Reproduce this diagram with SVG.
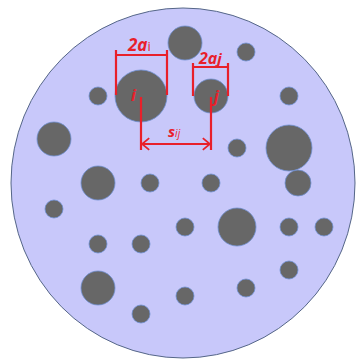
<svg xmlns="http://www.w3.org/2000/svg" width="357" height="361" viewBox="0 0 357 361">
<style>
.p{fill:#676767;stroke:#6f8fd0;stroke-width:0.8}
.r{stroke:#e8202a;stroke-width:2.2;fill:none}
.t{fill:#e8202a;font-family:"Open Sans","DejaVu Sans",sans-serif;font-weight:bold;font-style:italic}
</style>
<defs>
<marker id="ah" viewBox="0 0 10 14" refX="9" refY="7" markerWidth="9" markerHeight="14" markerUnits="userSpaceOnUse" orient="auto-start-reverse">
<path d="M1,0.5 L9,7 L1,13.5" fill="none" stroke="#e8202a" stroke-width="2"/>
</marker>
</defs>
<g id="domain"><ellipse cx="183" cy="183" rx="172" ry="175" fill="#c8c8fa" stroke="#556688" stroke-width="1"/></g>
<g id="particles">
<circle class="p" cx="185" cy="43" r="17"/>
<circle class="p" cx="246" cy="52" r="9"/>
<circle class="p" cx="141" cy="96" r="26"/>
<circle class="p" cx="211" cy="96" r="17"/>
<circle class="p" cx="98" cy="96" r="9"/>
<circle class="p" cx="289" cy="96" r="9"/>
<circle class="p" cx="54" cy="139" r="17"/>
<circle class="p" cx="237" cy="148" r="9"/>
<circle class="p" cx="289" cy="148" r="23"/>
<circle class="p" cx="98" cy="183" r="17"/>
<circle class="p" cx="150" cy="183" r="9"/>
<circle class="p" cx="211" cy="183" r="9"/>
<circle class="p" cx="298" cy="183" r="13"/>
<circle class="p" cx="54" cy="209" r="9"/>
<circle class="p" cx="185" cy="227" r="9"/>
<circle class="p" cx="237" cy="227" r="19"/>
<circle class="p" cx="289" cy="227" r="9"/>
<circle class="p" cx="324" cy="227" r="9"/>
<circle class="p" cx="98" cy="244" r="9"/>
<circle class="p" cx="141" cy="244" r="9"/>
<circle class="p" cx="289" cy="270" r="9"/>
<circle class="p" cx="98" cy="288" r="17"/>
<circle class="p" cx="246" cy="288" r="9"/>
<circle class="p" cx="185" cy="296" r="9"/>
<circle class="p" cx="141" cy="314" r="9"/>
</g>
<g id="connectors">
<path class="r" d="M116,50 V95 M167,50 V95 M116,55 H167"/>
<path class="r" d="M193,63 V96 M228,63 V96 M193,67 H228"/>
<path class="r" d="M141,97 V150 M211,97 V150"/>
<line class="r" x1="142" y1="144" x2="210" y2="144" marker-start="url(#ah)" marker-end="url(#ah)"/>
</g>
<g id="labels">
<text class="t" x="128" y="51" font-size="17">2a<tspan font-size="13" font-style="normal" font-weight="normal">i</tspan></text>
<text class="t" x="199" y="64" font-size="16">2a<tspan font-size="15">j</tspan></text>
<text class="t" x="131" y="101" font-size="16">i</text>
<text class="t" x="214" y="102" font-size="16">j</text>
<text class="t" x="168" y="137" font-size="15">s<tspan font-size="10" font-weight="normal">ij</tspan></text>
</g>
</svg>
